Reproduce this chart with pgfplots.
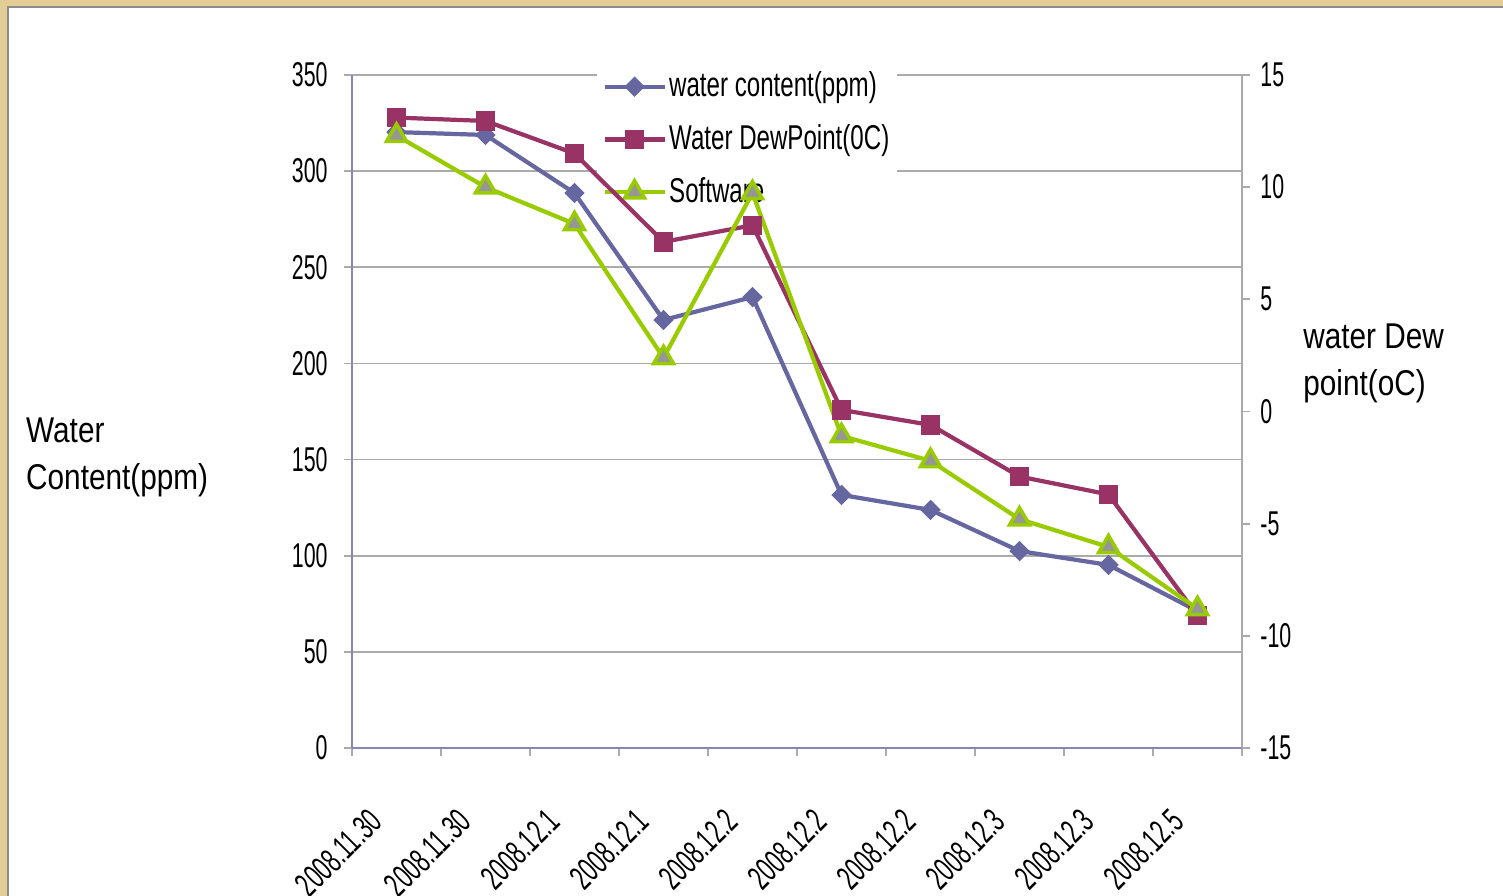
\documentclass[border=0pt]{standalone}
\usepackage{fontspec}
\setmainfont{Liberation Sans}[FakeStretch=0.78]
\newfontfamily\tickfamily{Liberation Sans}[FakeStretch=0.62]
\newfontfamily\legfamily{Liberation Sans}[FakeStretch=0.70]
\newfontfamily\titlefamily{Liberation Sans}[FakeStretch=0.83]
\usepackage{pgfplots}
\pgfplotsset{compat=1.18}
\definecolor{bg}{RGB}{228,204,150}
\definecolor{axisblue}{RGB}{134,134,184}
\definecolor{gridgray}{RGB}{170,170,170}
\definecolor{wc}{RGB}{102,102,160}
\definecolor{dp}{RGB}{153,51,102}
\definecolor{sw}{RGB}{153,204,0}
\definecolor{swfill}{RGB}{150,150,150}
\newcommand{\tf}{\tickfamily\fontsize{9.8}{11.5}\selectfont}
\newcommand{\lf}{\legfamily\fontsize{9.8}{11.5}\selectfont}
\newcommand{\af}{\titlefamily\fontsize{10.2}{13.3}\selectfont}
\pgfplotsset{
  wcstyle/.style={color=wc, line width=1.2pt, mark=square*, mark size=0.65mm, mark options={fill=wc, draw=wc, line width=0.4pt, rotate=45}},
  dpstyle/.style={color=dp, line width=1.2pt, mark=square*, mark size=0.9mm, mark options={fill=dp, draw=dp, line width=0.4pt}},
  swstyle/.style={color=sw, line width=1.2pt, mark=triangle*, mark size=1.15mm, mark options={fill=swfill, draw=sw, line width=1pt}},
}
\begin{document}
\begin{tikzpicture}[x=1mm,y=1mm]
\fill[bg] (0,0) rectangle (150.3,89.6);
\filldraw[fill=white, draw=black!45, line width=0.3pt] (0.8,-1) rectangle (151,88.9);
\begin{axis}[
  at={(35.2mm,14.8mm)}, anchor=south west,
  width=89mm, height=67.3mm, scale only axis,
  xmin=-0.5, xmax=9.5, ymin=0, ymax=350,
  axis y line*=left, axis x line*=bottom,
  axis line style={-, draw=axisblue, line width=0.6pt},
  ytick={0,50,...,350},
  ymajorgrids, grid style={draw=gridgray, line width=0.5pt},
  tick align=outside, major tick length=0.8mm,
  tick style={draw=gridgray, line width=0.5pt},
  xtick={-0.5,0.5,...,9.5}, xticklabels={},
  extra x ticks={0,1,2,3,4,5,6,7,8,9},
  extra x tick labels={2008.11.30,2008.11.30,2008.12.1,2008.12.1,2008.12.2,2008.12.2,2008.12.2,2008.12.3,2008.12.3,2008.12.5},
  extra x tick style={major tick length=0pt, xticklabel style={font=\tf, xshift=-2.0mm, yshift=-6.7mm, rotate=45, anchor=east, inner sep=0pt}},
  yticklabel style={font=\tf, xshift=-0.4mm},
  /pgf/number format/assume math mode=true,
  ylabel={Water\\Content(ppm)},
  ylabel style={rotate=-90, align=left, anchor=west, font=\af, at={(axis description cs:-0.38,0.432)}},
  legend style={font=\lf, draw=none, fill=white, at={(axis description cs:0.275,1.024)}, anchor=north west, row sep=0.85mm, inner xsep=0.5mm, inner ysep=0.5mm, nodes={inner xsep=0.25mm}},
  legend cell align=left,
  legend image code/.code={\draw[mark repeat=2,mark phase=2,#1] plot coordinates {(0mm,0mm) (3mm,0mm) (6mm,0mm)};},
  clip=false,
]
\addplot[wcstyle] coordinates {(0,320.3) (1,318.8) (2,288.6) (3,222.6) (4,234.5) (5,131.6) (6,123.8) (7,102.4) (8,95.2) (9,71.2)};
\addlegendentry{water content(ppm)}
\addlegendimage{dpstyle}
\addlegendentry{Water DewPoint(0C)}
\addlegendimage{swstyle}
\addlegendentry{Software}
\end{axis}
\begin{axis}[
  at={(35.2mm,14.8mm)}, anchor=south west,
  width=89mm, height=67.3mm, scale only axis,
  xmin=-0.5, xmax=9.5, ymin=-15, ymax=15,
  axis y line*=right, axis x line=none,
  axis line style={-, draw=gridgray, line width=0.6pt},
  ytick={-15,-10,...,15},
  tick align=outside, major tick length=0.8mm,
  tick style={draw=gridgray, line width=0.5pt},
  yticklabel style={font=\tf, xshift=-0.2mm},
  /pgf/number format/assume math mode=true,
  ylabel={water Dew\\point(oC)},
  ylabel style={rotate=-90, align=left, anchor=west, font=\af, at={(axis description cs:1.055,0.572)}},
  clip=false,
]
\addplot[dpstyle] coordinates {(0,13.1) (1,12.95) (2,11.5) (3,7.56) (4,8.3) (5,0.07) (6,-0.6) (7,-2.9) (8,-3.7) (9,-9.1)};
\addplot[swstyle] coordinates {(0,12.3) (1,10.0) (2,8.36) (3,2.39) (4,9.74) (5,-1.09) (6,-2.2) (7,-4.8) (8,-6.04) (9,-8.8)};
\end{axis}
\pgfresetboundingbox
\useasboundingbox (0,0) rectangle (150.3,89.6);
\end{tikzpicture}
\end{document}
